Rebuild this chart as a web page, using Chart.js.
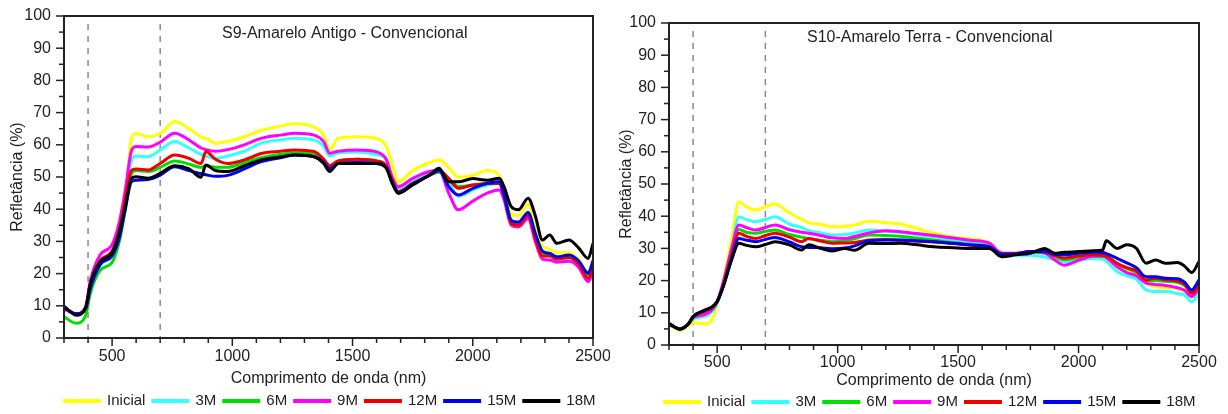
<!DOCTYPE html>
<html>
<head>
<meta charset="utf-8">
<script src="https://cdn.jsdelivr.net/npm/chart.js@4.4.1/dist/chart.umd.min.js"></script>
<style>
  body { margin: 0; background: #fff; width: 1228px; height: 414px; overflow: hidden; }
  canvas { position: absolute; top: 0; }
  #s9 { left: 0; }
  #s10 { left: 610px; }
</style>
</head>
<body>
<canvas id="s9" width="610" height="414"></canvas>
<canvas id="s10" width="618" height="414"></canvas>
<script>
const seriesNames = ["Inicial", "3M", "6M", "9M", "12M", "15M", "18M"];
const seriesColors = ["#ffff00", "#33ffff", "#00dd00", "#ff00ff", "#ee0000", "#0000ee", "#000000"];
const xTicks = [500, 1000, 1500, 2000, 2500];
const yTicks = [0, 10, 20, 30, 40, 50, 60, 70, 80, 90, 100];
const markerLines = [400, 700];

// S9 - Amarelo Antigo
const s9Wavelength = [300, 350, 390, 410, 450, 500, 530, 555, 580, 600,
  650, 700, 760, 820, 870, 890, 930, 980, 1050, 1120,
  1200, 1260, 1340, 1380, 1405, 1440, 1520, 1600, 1640, 1665,
  1690, 1750, 1820, 1860, 1900, 1940, 2000, 2060, 2110, 2130,
  2160, 2190, 2230, 2260, 2290, 2320, 2350, 2400, 2440, 2480, 2500];
const s9Inicial = [9.5, 7.5, 9, 15, 23, 26.5, 33, 42, 62, 63.5,
  62.5, 63.5, 67.2, 65, 62.5, 62, 60.5, 61, 62.5, 64.5,
  65.8, 66.5, 65.5, 63, 58.5, 62, 62.5, 62, 59.5, 54,
  48.5, 52, 54.5, 55.3, 53, 50, 50.5, 52, 50.5, 46,
  38.5, 38, 41.5, 35, 28.5, 27.5, 26.5, 26.5, 24.5, 20.5, 24.5];
const s9M3 = [9.5, 7.5, 9, 16, 23, 26.5, 33, 42, 55, 56.5,
  56.3, 58.4, 61, 59, 57, 56.5, 55.8, 56.5, 58, 60.5,
  61.5, 62, 61.5, 59.5, 56.5, 57.5, 57.8, 57, 55.5, 50,
  46.5, 49, 51.5, 52, 48.5, 44, 46, 47.5, 48, 45,
  36, 35.5, 38, 32, 26, 25.5, 24.5, 24.5, 22.5, 18.5, 22];
const s9M6 = [6.6, 4.6, 7, 14, 21, 23.5, 30, 40, 51, 52,
  51.7, 53, 55, 54, 53, 53.5, 53, 53, 54.5, 56,
  57, 57.5, 57, 55.5, 53, 55, 55.5, 55, 53.5, 49,
  45.5, 48, 50.5, 51.5, 49.5, 47, 47.5, 48, 48.5, 45,
  36.5, 35.5, 38.5, 32, 26.5, 26, 25, 25.5, 23.5, 19.5, 23];
const s9M9 = [9, 7.5, 9.5, 18, 25.8, 29, 36, 46, 58, 59.5,
  59.3, 60.8, 63.6, 61.5, 59, 58.5, 58, 58.5, 60, 62,
  63, 63.6, 63, 61, 57.4, 58, 58.4, 57.8, 55.5, 50,
  47, 49.6, 51.7, 52, 45, 39.8, 42.5, 45, 46, 43,
  35, 34.5, 37, 30, 24.5, 24.2, 23.5, 23.8, 22, 17.5, 20.5];
const s9M12 = [9.5, 7.5, 9.5, 17, 24, 27, 33.5, 43, 52, 52.5,
  52.2, 54.2, 56.8, 55.8, 54.2, 57.9, 55.5, 54.2, 55.3, 57.3,
  58, 58.4, 57.9, 55.5, 53.5, 55, 55.5, 55, 53.5, 49,
  45.5, 48, 50.5, 52, 49.5, 46.5, 47.5, 48, 48, 44,
  35.5, 35, 38, 31, 25.5, 25.5, 24.5, 25, 23, 18.5, 21.5];
const s9M15 = [9.5, 7.5, 9, 15.5, 22.7, 25.5, 31, 40, 48.5, 49,
  49.2, 50.6, 53.2, 52, 51, 50.7, 50.2, 50.5, 52.5, 54.8,
  56, 56.8, 56.3, 54.5, 52.5, 54.2, 54.5, 54.2, 52.8, 48.5,
  45.2, 47.8, 50.6, 52, 47, 44.4, 46.5, 48, 48.5, 44.5,
  36.5, 36, 39, 32.5, 27, 26.3, 25.2, 25.8, 24, 20.1, 24];
const s9M18 = [9.9, 7.1, 9.5, 17, 23.7, 26.5, 33, 41, 49.5, 50.1,
  49.6, 51.1, 53.5, 52.5, 49.9, 53.7, 52, 51.7, 53.5, 55.3,
  56.2, 56.8, 56.3, 54.2, 51.7, 54.2, 54.2, 54.2, 52.8, 48,
  44.9, 47.5, 50.6, 52.7, 48.5, 48.5, 49.5, 49, 49.6, 47,
  40.8, 39.8, 43.4, 38, 30.4, 32, 29.4, 30.4, 28, 24.7, 29.4];

// S10 - Amarelo Terra
const s10Wavelength = [300, 345, 380, 400, 450, 480, 500, 525, 560, 590,
  620, 660, 700, 740, 800, 850, 880, 930, 975, 1030,
  1070, 1130, 1200, 1260, 1330, 1400, 1480, 1550, 1630, 1680,
  1740, 1800, 1860, 1900, 1940, 2000, 2060, 2100, 2115, 2160,
  2200, 2240, 2280, 2320, 2360, 2410, 2440, 2470, 2500];
const s10Inicial = [6.5, 4.5, 6, 7, 6.5, 8, 12.5, 20, 33, 44.5,
  43, 41.9, 43, 43.8, 41, 39, 38, 37.5, 36.7, 36.8,
  37.3, 38.4, 38, 37.6, 36.2, 34.7, 33.5, 33, 31.6, 28,
  28.3, 29, 28.6, 26.5, 26.5, 27.9, 27.8, 27.4, 27, 24.3,
  23, 22, 19.2, 18, 17.8, 17.5, 16.5, 15, 17];
const s10M3 = [6.5, 5, 6.5, 8, 9, 10.5, 13, 19, 30, 39.8,
  39, 38.3, 39, 39.8, 37.5, 36.5, 35.5, 34.8, 34.2, 34.3,
  34.8, 35.7, 35.3, 35, 34.3, 33.6, 32.6, 32, 30.8, 28.5,
  27.9, 27.9, 27.3, 26.5, 25.9, 26.3, 26.9, 26.7, 26, 22.8,
  21.5, 20.5, 17.1, 16.6, 16.6, 16, 15.5, 13.4, 16];
const s10M6 = [6.5, 5, 6.5, 8.5, 10, 11.5, 13.5, 18.5, 28, 35.9,
  35, 34.7, 35.3, 35.7, 34.3, 33.5, 33, 32.5, 32.1, 32.3,
  33, 34.2, 34, 33.8, 33.2, 32.6, 31.8, 31.3, 30.5, 28.3,
  28.2, 28.8, 28.5, 27.5, 26.5, 27.2, 27.6, 27.5, 27.3, 25,
  23.8, 22.5, 19.8, 20, 19.8, 19.5, 18.5, 16.5, 19];
const s10M9 = [6.5, 5, 6.5, 8.5, 9.5, 11, 13.5, 19.5, 30, 37.3,
  36.5, 35.7, 36.5, 37.3, 35.8, 35, 34.7, 34, 33.3, 33.1,
  33.7, 34.8, 35.5, 35.2, 34.6, 34, 33.2, 32.5, 31.6, 28.6,
  28.5, 29, 28.6, 26.5, 24.8, 26.3, 27.6, 27.7, 27.2, 24.3,
  22.5, 21.5, 19.2, 18.8, 18.5, 17.8, 17, 15, 17.5];
const s10M12 = [6.5, 5, 6.5, 8.8, 10.5, 11.8, 13.5, 18.5, 28, 34.7,
  33.8, 33.1, 34, 34.7, 33.5, 32.1, 33.1, 32.3, 31.6, 31.7,
  31.8, 32.6, 32.8, 32.5, 32.2, 32, 31.5, 31, 30.4, 28.4,
  28.4, 29, 28.8, 27.8, 27, 27.6, 28, 27.9, 27.6, 25.4,
  24, 23, 20.2, 20.7, 20.2, 19.8, 18.8, 16.1, 18.5];
const s10M15 = [6.5, 5, 6.5, 8.8, 10.8, 11.8, 13.5, 18.3, 27, 33.1,
  32.6, 32.1, 32.8, 33.4, 32, 30.5, 30.3, 30.2, 29.9, 30.1,
  30.8, 32.4, 32.6, 32.6, 32.4, 32.1, 31.6, 31.1, 30.5, 28.2,
  28.3, 29, 29, 28.2, 28, 28.5, 28.8, 28.7, 28.4, 26.9,
  25.5, 24, 21.2, 21.2, 20.7, 20.6, 19.5, 17.1, 20.2];
const s10M18 = [6.7, 4.9, 6.5, 8.8, 10.9, 11.9, 13.5, 18.1, 26.4, 31.6,
  31, 30.5, 31.2, 32.1, 31.1, 29.5, 31.1, 30, 29.2, 30,
  29.4, 31.6, 31.5, 31.6, 31.1, 30.5, 30.2, 30, 30, 27.4,
  28, 28.5, 30, 28.5, 28.8, 29, 29.3, 29.5, 32.4, 30,
  31.1, 30, 25.4, 26.4, 25.4, 25.6, 24.5, 22.5, 25.9];

const FONT = "'Liberation Sans', Arial, sans-serif";
const INK = "#222";

// dashed markers, tick marks, box frame and the inner title
const decor = {
  id: "decor",
  beforeDatasetsDraw(chart) {
    const { ctx, chartArea: a, scales: { x } } = chart;
    ctx.save();
    ctx.strokeStyle = "#8a8a8a";
    ctx.lineWidth = 1.5;
    ctx.setLineDash([6, 6]);
    markerLines.forEach(v => {
      const px = x.getPixelForValue(v);
      ctx.beginPath();
      ctx.moveTo(px, a.top + 8);
      ctx.lineTo(px, a.bottom);
      ctx.stroke();
    });
    ctx.restore();
  },
  afterDatasetsDraw(chart, args, opts) {
    const { ctx, chartArea: a, scales: { x, y } } = chart;
    ctx.save();
    ctx.strokeStyle = INK;
    ctx.lineWidth = 1.5;
    for (let v = 0; v <= 100; v += 5) {
      const py = y.getPixelForValue(v);
      const len = v % 10 === 0 ? 8 : 5;
      ctx.beginPath();
      ctx.moveTo(a.left - len, py);
      ctx.lineTo(a.left, py);
      ctx.stroke();
    }
    for (let v = 300; v <= 2500; v += 100) {
      const px = x.getPixelForValue(v);
      const len = v % 500 === 0 ? 8 : 5;
      ctx.beginPath();
      ctx.moveTo(px, a.bottom);
      ctx.lineTo(px, a.bottom + len);
      ctx.stroke();
    }
    ctx.lineWidth = 2;
    ctx.strokeRect(a.left, a.top, a.right - a.left, a.bottom - a.top);
    ctx.fillStyle = INK;
    ctx.font = "16px " + FONT;
    ctx.textBaseline = "middle";
    ctx.fillText(opts.text, a.left + opts.dx, a.top + opts.dy);
    ctx.restore();
  }
};

function makeChart(id, title, wl, series, layout) {
  const datasets = series.map((vals, i) => ({
    label: seriesNames[i],
    data: vals.map((v, k) => ({ x: wl[k], y: v })),
    borderColor: seriesColors[i],
    backgroundColor: seriesColors[i],
    borderWidth: 3,
    pointRadius: 0,
    cubicInterpolationMode: "monotone",
    order: series.length - 1 - i
  }));
  return new Chart(document.getElementById(id), {
    type: "line",
    data: { datasets },
    plugins: [decor],
    options: {
      responsive: false,
      animation: false,
      layout: { padding: { top: layout.top, right: layout.legendRight, left: 0, bottom: 0 } },
      plugins: {
        tooltip: { enabled: false },
        decor: { text: title, dx: layout.titleDx, dy: layout.titleDy },
        legend: {
          position: "bottom",
          align: "end",
          maxHeight: layout.legendHeight,
          labels: {
            boxWidth: 35,
            boxHeight: 1,
            padding: 7.5,
            color: INK,
            font: { family: FONT, size: 15 },
            sort: (a, b) => a.datasetIndex - b.datasetIndex
          }
        }
      },
      scales: {
        x: {
          type: "linear",
          min: 300,
          max: 2500,
          afterBuildTicks: s => { s.ticks = xTicks.map(v => ({ value: v })); },
          afterFit: s => { s.height = layout.xHeight; s.paddingLeft = 0; s.paddingRight = layout.right; },
          grid: { display: false, drawTicks: false },
          border: { display: false },
          ticks: { color: INK, font: { family: FONT, size: 16 }, padding: layout.xPad, maxRotation: 0, autoSkip: false, callback: v => String(v) },
          title: { display: true, text: "Comprimento de onda (nm)", color: INK, font: { family: FONT, size: 16 }, padding: { top: 0, bottom: layout.xTitlePad } }
        },
        y: {
          min: 0,
          max: 100,
          afterBuildTicks: s => { s.ticks = yTicks.map(v => ({ value: v })); },
          afterFit: s => { s.width = layout.yWidth; s.paddingTop = 0; s.paddingBottom = 0; },
          grid: { display: false, drawTicks: false },
          border: { display: false },
          ticks: { color: INK, font: { family: FONT, size: 16 }, padding: 13, callback: v => String(v) },
          title: { display: true, text: "Refletância (%)", color: INK, font: { family: FONT, size: 16 }, padding: { top: layout.yTitlePad, bottom: 0 } }
        }
      }
    }
  });
}

makeChart("s9", "S9-Amarelo Antigo - Convencional", s9Wavelength,
  [s9Inicial, s9M3, s9M6, s9M9, s9M12, s9M15, s9M18],
  { top: 16, right: 17, legendRight: 7, xHeight: 48, xPad: 9, xTitlePad: -2, legendHeight: 28,
    yWidth: 64, yTitlePad: 8, titleDx: 158, titleDy: 18 });

makeChart("s10", "S10-Amarelo Terra - Convencional", s10Wavelength,
  [s10Inicial, s10M3, s10M6, s10M9, s10M12, s10M15, s10M18],
  { top: 23, right: 29, legendRight: 25, xHeight: 42, xPad: 8, xTitlePad: -3, legendHeight: 27,
    yWidth: 59, yTitlePad: 7, titleDx: 138, titleDy: 15 });
</script>
</body>
</html>
